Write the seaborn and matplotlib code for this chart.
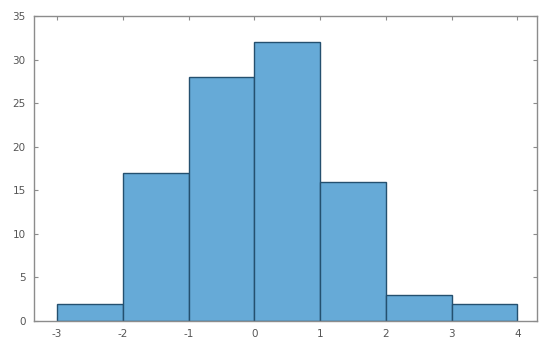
import matplotlib
matplotlib.use("Agg")
import matplotlib.pyplot as plt
import seaborn as sns
import numpy as np

bin_edges = [-3, -2, -1, 0, 1, 2, 3, 4]
bin_centers = [-2.5, -1.5, -0.5, 0.5, 1.5, 2.5, 3.5]
counts = [2, 17, 28, 32, 16, 3, 2]
x_ticks = [-3, -2, -1, 0, 1, 2, 3, 4]
y_ticks = [0, 5, 10, 15, 20, 25, 30, 35]

sns.set_style("white")
plt.rcParams['font.family'] = ['DejaVu Sans']
plt.rcParams['axes.unicode_minus'] = False

fig = plt.figure(figsize=(5.47, 3.49), dpi=100)
ax = fig.add_axes([34/547, 1 - 321/349, (537-34)/547, (321-16)/349])

sns.histplot(x=bin_centers, weights=counts, bins=bin_edges, ax=ax,
             color=(102/255, 170/255, 215/255), alpha=1.0,
             edgecolor="#24506f", linewidth=1.0)

ax.set_xlim(-3.35, 4.3)
ax.set_ylim(0, 35)
ax.set_xticks(x_ticks)
ax.set_yticks(y_ticks)
ax.set_xlabel("")
ax.set_ylabel("")
for s in ax.spines.values():
    s.set_visible(True)
    s.set_color("#8c8c8c")
    s.set_linewidth(1.0)
ax.tick_params(axis="both", direction="in", length=3, width=0.8, color="#8c8c8c",
               labelsize=7.5, labelcolor="#555555", top=True, right=True,
               bottom=True, left=True, pad=6)
fig.savefig("out.png", dpi=100)
